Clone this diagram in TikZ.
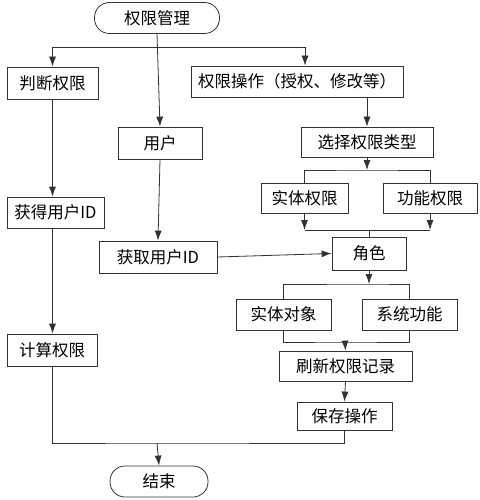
\documentclass[tikz,border=0pt]{standalone}
\usepackage{fontspec}
\setmainfont{Noto Sans CJK SC}
\usetikzlibrary{arrows.meta}
\tikzset{
	box/.style={draw=black!80, line width=0.8pt, rectangle, inner sep=0pt, font=\fontsize{16.5}{17}\selectfont},
	term/.style={box, rounded corners=15pt},
	arr/.style={draw=black!80, line width=0.8pt, -{Latex[length=10pt,width=7pt]}},
	ln/.style={draw=black!80, line width=0.8pt}
}
\begin{document}
\begin{tikzpicture}[x=1pt,y=-1pt]
			\useasboundingbox (0,0) rectangle (479,500);
			\node[term, minimum width=125pt, minimum height=31pt] (start) at (157,18) {权限管理};
			\node[box, minimum width=91pt, minimum height=32pt] (judge) at (52.5,83) {判断权限};
			\node[box, minimum width=212pt, minimum height=31pt] (oper) at (297,81.5) {权限操作（授权、修改等）};
			\node[box, minimum width=84pt, minimum height=32pt] (user) at (160,143) {用户};
			\node[box, minimum width=132pt, minimum height=30pt] (select) at (367,142) {选择权限类型};
			\node[box, minimum width=87pt, minimum height=30pt] (entity) at (304.5,198) {实体权限};
			\node[box, minimum width=94pt, minimum height=30pt] (func) at (430,198) {功能权限};
			\node[box, minimum width=97pt, minimum height=31pt] (getid) at (55.5,212.5) {获得用户ID};
			\node[box, minimum width=118pt, minimum height=32pt] (fetchid) at (158,257) {获取用户ID};
			\node[box, minimum width=74pt, minimum height=33pt] (role) at (369,253.5) {角色};
			\node[box, minimum width=95pt, minimum height=31pt] (object) at (283.5,314.5) {实体对象};
			\node[box, minimum width=95pt, minimum height=31pt] (system) at (409.5,314.5) {系统功能};
			\node[box, minimum width=90pt, minimum height=32pt] (calc) at (52,350) {计算权限};
			\node[box, minimum width=133pt, minimum height=30pt] (refresh) at (345.5,366) {刷新权限记录};
			\node[box, minimum width=95pt, minimum height=28pt] (save) at (344.5,416) {保存操作};
			\node[term, minimum width=98pt, minimum height=31pt] (end) at (159,481.5) {结束};
			\coordinate (fork1) at (157,47);
			\coordinate (fork2) at (367,170);
			\coordinate (join2) at (369,230);
			\coordinate (fork3) at (369,284);
			\coordinate (join3) at (345,342);
			\coordinate (join4) at (157,443);
			% top branches
			\draw[arr] (start.south) -- (user.north);
			\draw[arr] (fork1) -| (judge.north);
			\draw[arr] (fork1) -| ([xshift=8pt]oper.north);
			% left column
			\draw[arr] (judge.south) -- (judge.south |- getid.north);
			\draw[arr] (judge.south |- getid.south) -- (judge.south |- calc.north);
			\draw[arr] (user.south) -- (fetchid.north);
			\draw[arr] (fetchid.east) -- (role.west);
			% right column
			\draw[arr] (select.north |- oper.south) -- (select.north);
			\draw[arr] (select.south) -- (fork2);
			\draw[ln] (entity.north) |- (fork2) -| (func.north);
			\draw[arr] (entity.south) -- (entity.south |- join2);
			\draw[arr] (func.south) -- (func.south |- join2);
			\draw[ln] (entity.south |- join2) -- (func.south |- join2);
			\draw[ln] (join2) -- (role.north);
			\draw[arr] (role.south) -- (fork3);
			\draw[ln] (object.north) |- (fork3) -| (system.north);
			\draw[ln] (object.south) |- (join3) -| (system.south);
			\draw[arr] (join3) -- (refresh.north);
			\draw[arr] (refresh.south) -- (save.north);
			% to the end
			\draw[ln] (calc.south) |- (join4) -| (save.south);
			\draw[arr] (join4) -- (end.north);
\end{tikzpicture}
\end{document}
